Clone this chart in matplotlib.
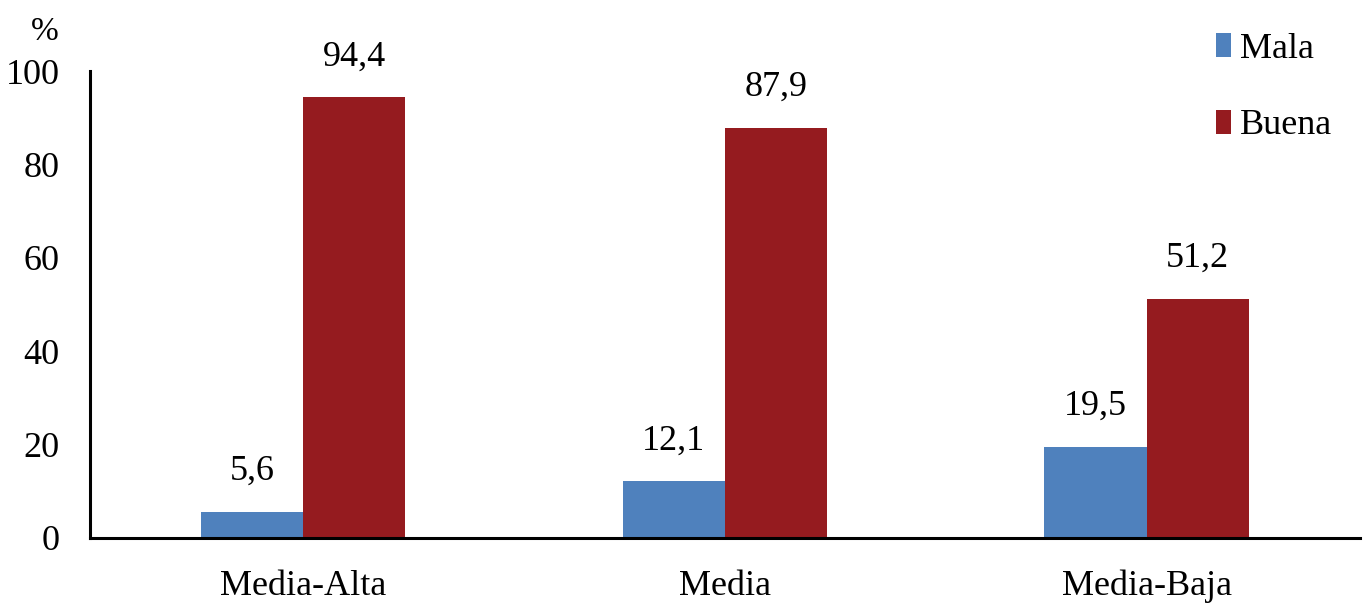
import matplotlib.pyplot as plt
import numpy as np

plt.rcParams['font.family'] = ['Liberation Serif', 'DejaVu Serif']

# Data
categories = ["Media-Alta", "Media", "Media-Baja"]
mala = [5.6, 12.1, 19.5]
buena = [94.4, 87.9, 51.2]
series_names = ["Mala", "Buena"]
colors = ["#4F81BD", "#951B1F"]

fig = plt.figure(figsize=(13.65, 6.09), dpi=100)
ax = fig.add_axes([0.066, 0.1166, 0.93, 0.7668])

x = np.arange(len(categories))
w = 0.242
b1 = ax.bar(x - w / 2, mala, w, color=colors[0], label=series_names[0])
b2 = ax.bar(x + w / 2, buena, w, color=colors[1], label=series_names[1])

# Value labels with decimal comma
for bars, vals in ((b1, mala), (b2, buena)):
    for rect, v in zip(bars, vals):
        ax.annotate("{:.1f}".format(v).replace(".", ","),
                    (rect.get_x() + rect.get_width() / 2, rect.get_height()),
                    xytext=(0, 29), textcoords="offset points",
                    ha="center", va="center", fontsize=26)

ax.set_xlim(-0.505, 2.505)
ax.set_ylim(0, 100)
ax.set_yticks([0, 20, 40, 60, 80, 100])
ax.set_xticks(x)
ax.set_xticklabels(categories)
ax.tick_params(axis="both", length=0, labelsize=26)
ax.tick_params(axis="x", pad=23)
ax.tick_params(axis="y", pad=22)

for s in ("top", "right"):
    ax.spines[s].set_visible(False)
for s in ("left", "bottom"):
    ax.spines[s].set_linewidth(2.2)

fig.text(0.033, 0.948, "%", ha="center", va="center", fontsize=24)

ax.legend(loc="upper left", bbox_to_anchor=(1216 / 1365, 1 - 33 / 609),
          bbox_transform=fig.transFigure, frameon=False, fontsize=26,
          handlelength=0.42, handleheight=0.64, handletextpad=0.25,
          labelspacing=1.2, borderpad=0, borderaxespad=0)

fig.savefig("out.png", dpi=100)
